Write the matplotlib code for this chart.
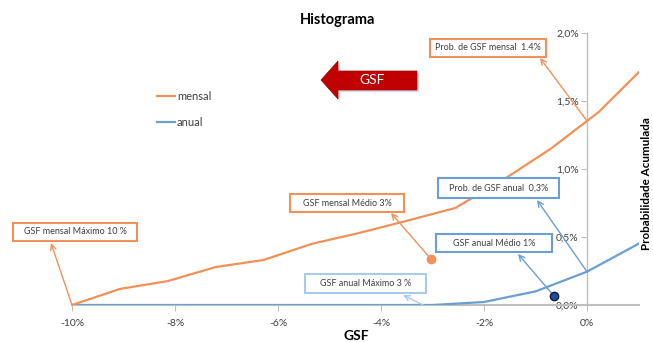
import numpy as np
import matplotlib
matplotlib.use("Agg")
import matplotlib.pyplot as plt
from matplotlib.patches import Polygon, Rectangle

plt.rcParams['font.family'] = ['Lato', 'DejaVu Sans']

# ---- data (values in %) ----
mensal_x = [-10, -9.07, -8.14, -7.21, -6.28, -5.35, -4.42, -3.49, -2.56, -1.63, -0.70, 0.23, 1.0]
mensal_y = [0, 0.118, 0.176, 0.279, 0.331, 0.449, 0.53, 0.62, 0.713, 0.92, 1.15, 1.42, 1.71]
anual_x = [-10, -9, -8, -7, -6, -5, -4, -3, -2, -1, 0, 1]
anual_y = [0, 0, 0, 0, 0, 0, 0, 0, 0.022, 0.10, 0.245, 0.45]
mensal_medio = (-3.03, 0.338)
anual_medio = (-0.64, 0.066)
xticks = [-10, -8, -6, -4, -2, 0]
xticklabels = ['-10%', '-8%', '-6%', '-4%', '-2%', '0%']
yticks = [0, 0.5, 1.0, 1.5, 2.0]
yticklabels = ['0,0%', '0,5%', '1,0%', '1,5%', '2,0%']

ORANGE = '#F0915A'
BLUE = '#6A9FD4'
LBLUE = '#A9CBEA'
GRAY = '#BFBFBF'
TXT = '#404040'

W, H = 653, 342
fig = plt.figure(figsize=(W / 100, H / 100), dpi=100)
ax = fig.add_axes([72 / W, 1 - 305 / H, (638.5 - 72) / W, (305 - 33) / H])
ax.set_xlim(-10, 1)
ax.set_ylim(0, 2)

ax.plot(anual_x, anual_y, color=BLUE, lw=1.6, label='anual', zorder=3)
ax.plot(mensal_x, mensal_y, color=ORANGE, lw=1.6, label='mensal', zorder=3)
ax.plot(*mensal_medio, 'o', color=ORANGE, ms=6, mec=ORANGE, zorder=5, clip_on=False)
ax.plot(*anual_medio, 'o', color='#1F4E9A', ms=6, mec='#0A1F40', mew=1, zorder=5, clip_on=False)

# axes styling
for s in ['top', 'right']:
    ax.spines[s].set_visible(False)
ax.spines['left'].set_position(('data', 0))
ax.spines['left'].set_color(GRAY)
ax.spines['bottom'].set_color(GRAY)
ax.spines['left'].set_linewidth(1)
ax.spines['bottom'].set_linewidth(1.5)
ax.set_xticks(xticks)
ax.set_xticklabels(xticklabels)
ax.set_yticks(yticks)
ax.set_yticklabels(yticklabels)
ax.tick_params(axis='both', colors=GRAY, labelcolor=TXT, labelsize=7.5, length=4)
ax.tick_params(axis='x', pad=6)
ax.tick_params(axis='y', pad=2)

fig.text(338 / W, 1 - 20 / H, 'Histograma', ha='center', va='center',
         fontsize=10.5, fontweight='bold', color='black')
fig.text(356 / W, 1 - 336 / H, 'GSF', ha='center', va='center',
         fontsize=10, fontweight='bold', color='black')
fig.text(646 / W, 1 - 184 / H, 'Probabilidade Acumulada', ha='center', va='center',
         rotation=90, fontsize=8.4, fontweight='bold', color='black')

# legend
handles, labels = ax.get_legend_handles_labels()
leg = fig.legend(handles[::-1], labels[::-1], loc='upper left',
                 bbox_to_anchor=(147 / W, 1 - 81 / H), frameon=False,
                 fontsize=8, handlelength=1.6, handletextpad=0.2, labelspacing=1.35)
for t in leg.get_texts():
    t.set_color(TXT)

# red GSF arrow
def px(x, y):
    return (x / W, 1 - y / H)
shape = [(321, 80), (338, 61), (338, 71), (417, 71), (417, 90), (338, 90), (338, 99)]
shadow = Polygon([px(x + 2, y + 2) for x, y in shape], closed=True,
                 transform=fig.transFigure, facecolor='#D9D9D9', edgecolor='none')
arrow = Polygon([px(x, y) for x, y in shape], closed=True,
                transform=fig.transFigure, facecolor='#C00000', edgecolor='#A00000', lw=0.5)
fig.patches.extend([shadow, arrow])
fig.text(372 / W, 1 - 80 / H, 'GSF', ha='center', va='center', color='white', fontsize=10)

# pixel -> data helpers for box layout
def dx(p):
    return (p - 587) / 51.5
def dy(p):
    return (305 - p) / 136.0

mens_at0 = float(np.interp(0, mensal_x, mensal_y))
anu_at0 = float(np.interp(0, anual_x, anual_y))
# (text, box pixel extents x0,x1,y0,y1, tail point, head point (px), color)
notes = [
    ('Prob. de GSF mensal  1.4%', (430, 546, 39, 57), (0, mens_at0), (540, 58), ORANGE),
    ('GSF mensal Máximo 10 %', (13, 137, 223, 241), (mensal_x[0], mensal_y[0]), (51, 243), ORANGE),
    ('GSF mensal Médio 3%', (290, 404, 194, 212), mensal_medio, (391, 213), ORANGE),
    ('Prob. de GSF anual  0,3%', (438, 559, 178, 198), (0, anu_at0), (537, 200), BLUE),
    ('GSF anual Médio 1%', (436, 552, 234, 252), anual_medio, (518, 254), BLUE),
    ('GSF anual Máximo 3 %', (305, 426, 274, 293), (dx(423), 0.0), (403, 295), LBLUE),
]
for text, (x0, x1, y0, y1), tail, head, col in notes:
    ax.annotate('', xy=(dx(head[0]), dy(head[1])), xytext=tail,
                arrowprops=dict(arrowstyle='->', color=col, lw=1, shrinkA=0, shrinkB=0,
                                mutation_scale=10),
                annotation_clip=False, zorder=4)
    ax.add_patch(Rectangle((dx(x0), dy(y1)), dx(x1) - dx(x0), dy(y0) - dy(y1),
                           fc='white', ec=col, lw=1.5, zorder=6, clip_on=False))
    ax.text(dx((x0 + x1) / 2), dy((y0 + y1) / 2), text, ha='center', va='center',
            fontsize=6.5, color=TXT, zorder=7, clip_on=False)

fig.savefig('out.png', dpi=100)
